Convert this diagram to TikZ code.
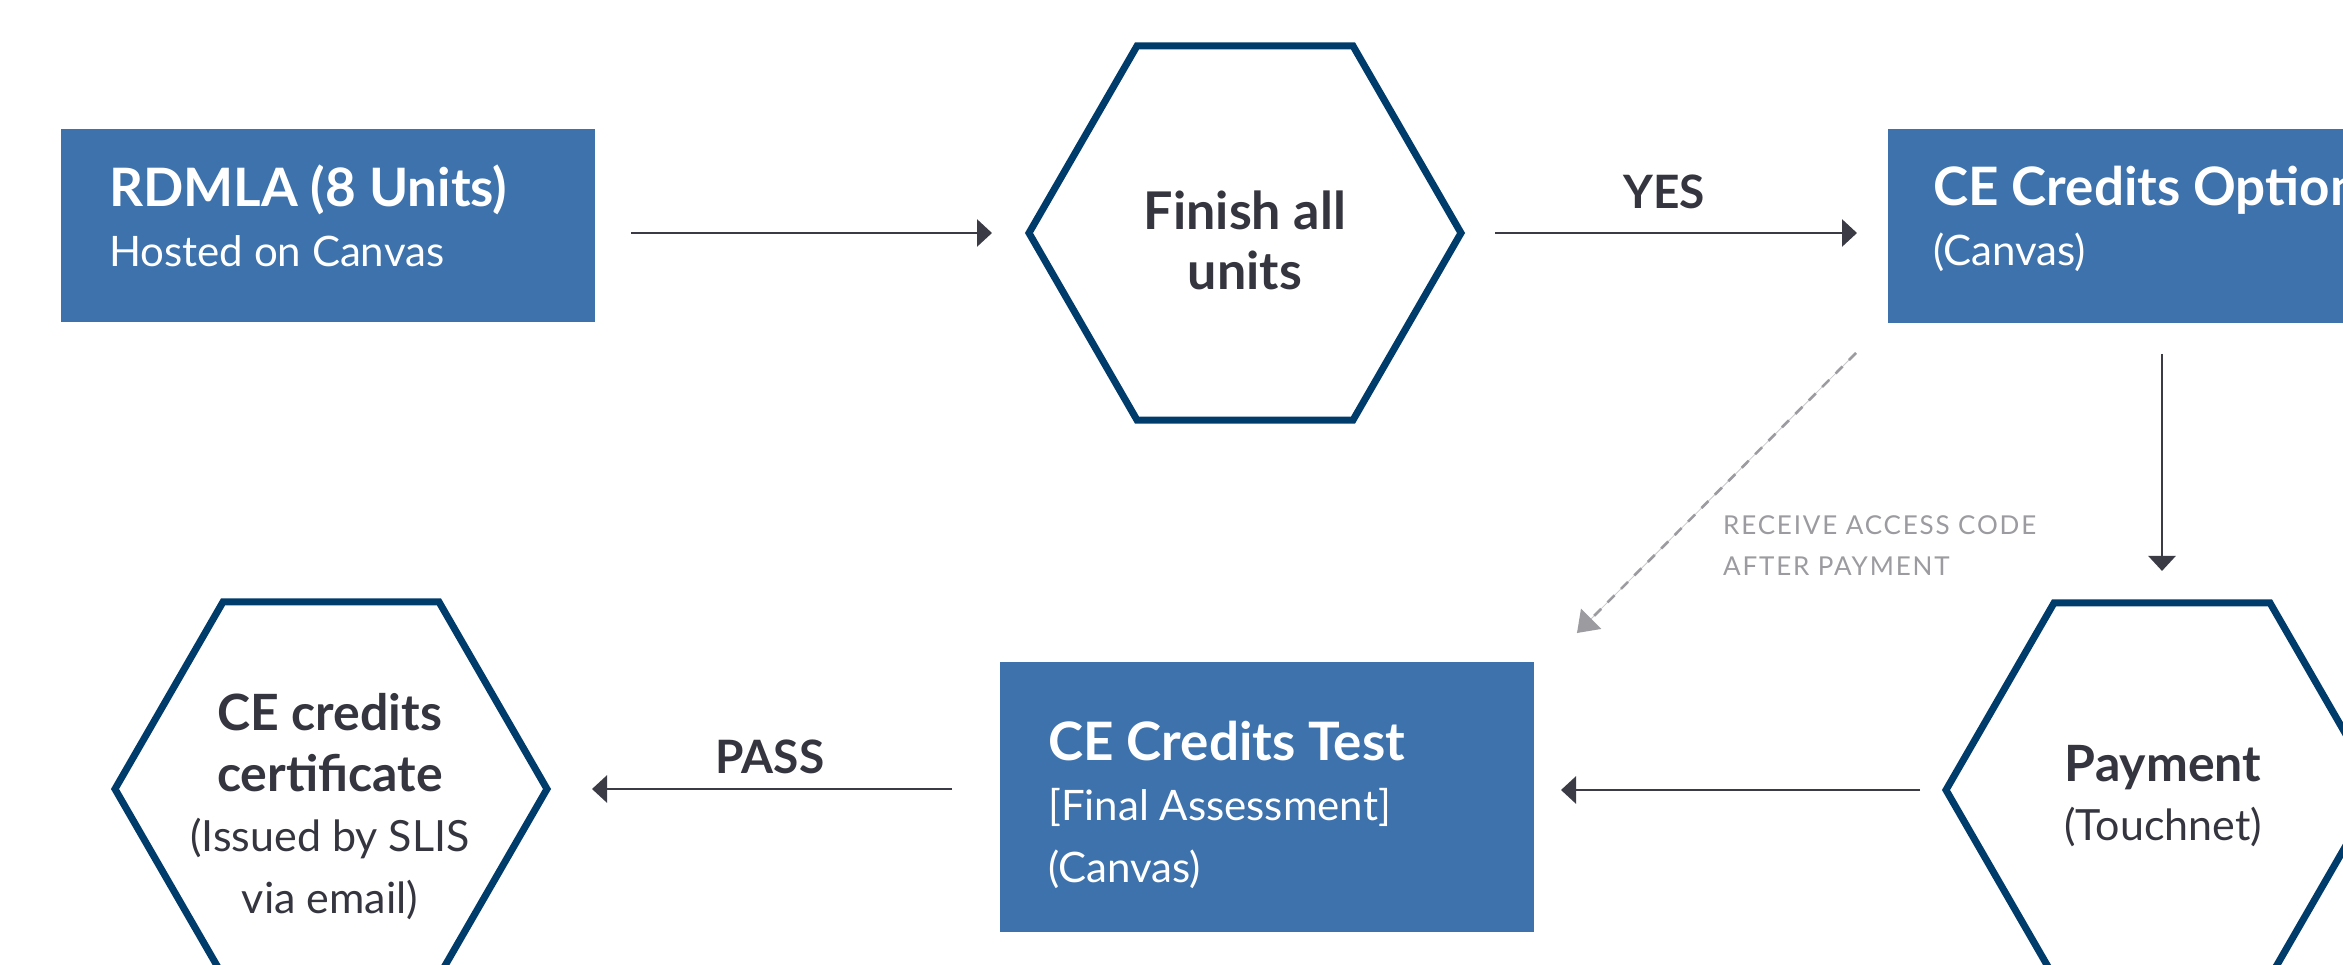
\documentclass[tikz,border=0pt]{standalone}
\usepackage{fontspec}
\setmainfont{Lato}
\usetikzlibrary{arrows.meta,shapes.geometric,calc}
\definecolor{boxblue}{HTML}{3D72AD}
\definecolor{hexnavy}{HTML}{003C6B}
\definecolor{ink}{HTML}{35353F}
\definecolor{arrowc}{HTML}{3A3B45}
\definecolor{greyt}{HTML}{9B9BA0}
\definecolor{greyline}{HTML}{C9C9CC}
\tikzset{
  bluebox/.style={rectangle, fill=boxblue, draw=none, inner sep=0pt, outer sep=0pt, minimum width=534pt},
  hexnode/.style={regular polygon, regular polygon sides=6, draw=hexnavy, line width=7pt, inner sep=0pt, outer sep=0pt, minimum size=432pt},
  boxtitle/.style={anchor=base west, inner sep=0pt, text=white, font=\fontsize{53}{60}\selectfont\bfseries},
  boxsub/.style={anchor=base west, inner sep=0pt, text=white, font=\fontsize{42}{50}\selectfont},
  hextitle/.style={anchor=base, inner sep=0pt, text=ink, font=\fontsize{52}{60}\selectfont\bfseries},
  hexsub/.style={anchor=base, inner sep=0pt, text=ink, font=\fontsize{43}{50}\selectfont},
  edgelabel/.style={anchor=base, inner sep=0pt, text=ink, font=\fontsize{46}{50}\selectfont\bfseries},
  greylabel/.style={anchor=base west, inner sep=0pt, text=greyt, font=\fontsize{26}{30}\selectfont\addfontfeatures{LetterSpace=7}},
  arr/.style={draw=arrowc, line width=2.8pt, -{Triangle[length=15pt,width=27pt]}},
  dasharr/.style={draw=greyt, line width=2.6pt, dash pattern=on 10pt off 9pt, -{Triangle[length=20pt,width=28pt,fill=greyt]}},
  hairline/.style={draw=greyline, line width=0.8pt}
}
\begin{document}
\begin{tikzpicture}[x=1pt,y=-1pt]
\useasboundingbox (0,0) rectangle (2343,965);
\fill[white] (0,0) rectangle (2343,965);

% boxes
\node[bluebox, minimum height=193pt] (rdmla) at (328,225.5) {};
\node[bluebox, minimum height=194pt] (opt) at (2155,226) {};
\node[bluebox, minimum height=270pt] (test) at (1267,797) {};

% hexagons
\node[hexnode] (finish) at (1245,233) {};
\node[hexnode] (payment) at (2162,790) {};
\node[hexnode] (cert) at (331,789) {};

% box texts
\node[boxtitle] (t1) at (109,207) {RDMLA (8 Units)};
\node[boxsub] (t2) at (109,267) {Hosted on Canvas};
\node[boxtitle] (t3) at (1933,206) {CE Credits Option};
\node[boxsub] (t4) at (1933,266) {(Canvas)};
\node[boxtitle] (t5) at (1048,760) {CE Credits Test};
\node[boxsub] (t6) at (1048,820) {[Final Assessment]};
\node[boxsub] (t7) at (1048,882) {(Canvas)};

% hexagon texts
\node[hextitle] (h1) at (1245,230) {Finish all};
\node[hextitle] (h2) at (1245,290) {units};
\node[hextitle, font=\fontsize{50}{56}\selectfont\bfseries] (h3) at (2163,781) {Payment};
\node[hexsub] (h4) at (2163,840) {(Touchnet)};
\node[hextitle, font=\fontsize{50}{56}\selectfont\bfseries] (h5) at (330,730) {CE credits};
\node[hextitle, font=\fontsize{50}{56}\selectfont\bfseries] (h6) at (330,791) {certificate};
\node[hexsub] (h7) at (330,851) {(Issued by SLIS};
\node[hexsub] (h8) at (330,913) {via email)};

% connectors
\draw[arr] ([xshift=36pt]rdmla.east |- finish.west) -- ([xshift=-37pt]finish.west);
\draw[arr] ([xshift=34pt]finish.east) -- ([xshift=-31pt]finish.east -| opt.west);
\node[edgelabel] (yes) at (1664,209) {YES};
\draw[arr] ([yshift=-31pt]payment.north |- opt.south) -- ([yshift=32pt]payment.north);
\draw[arr] ([xshift=-26pt]payment.west) -- ([xshift=27pt]payment.west -| test.east);
\draw[arr] ([xshift=-48pt]test.west |- cert.east) -- ([xshift=45pt]cert.east);
\node[edgelabel] (pass) at (770,773) {PASS};

% dashed access-code arrow
\draw[hairline] ($(opt.south west)+(-32,30)$) -- ($(test.north east)+(43,-29)$);
\draw[dasharr] ($(opt.south west)+(-32,30)$) -- ($(test.north east)+(43,-29)$);
\node[greylabel] (g1) at (1723,534) {RECEIVE ACCESS CODE};
\node[greylabel] (g2) at (1723,575) {AFTER PAYMENT};
\end{tikzpicture}
\end{document}
